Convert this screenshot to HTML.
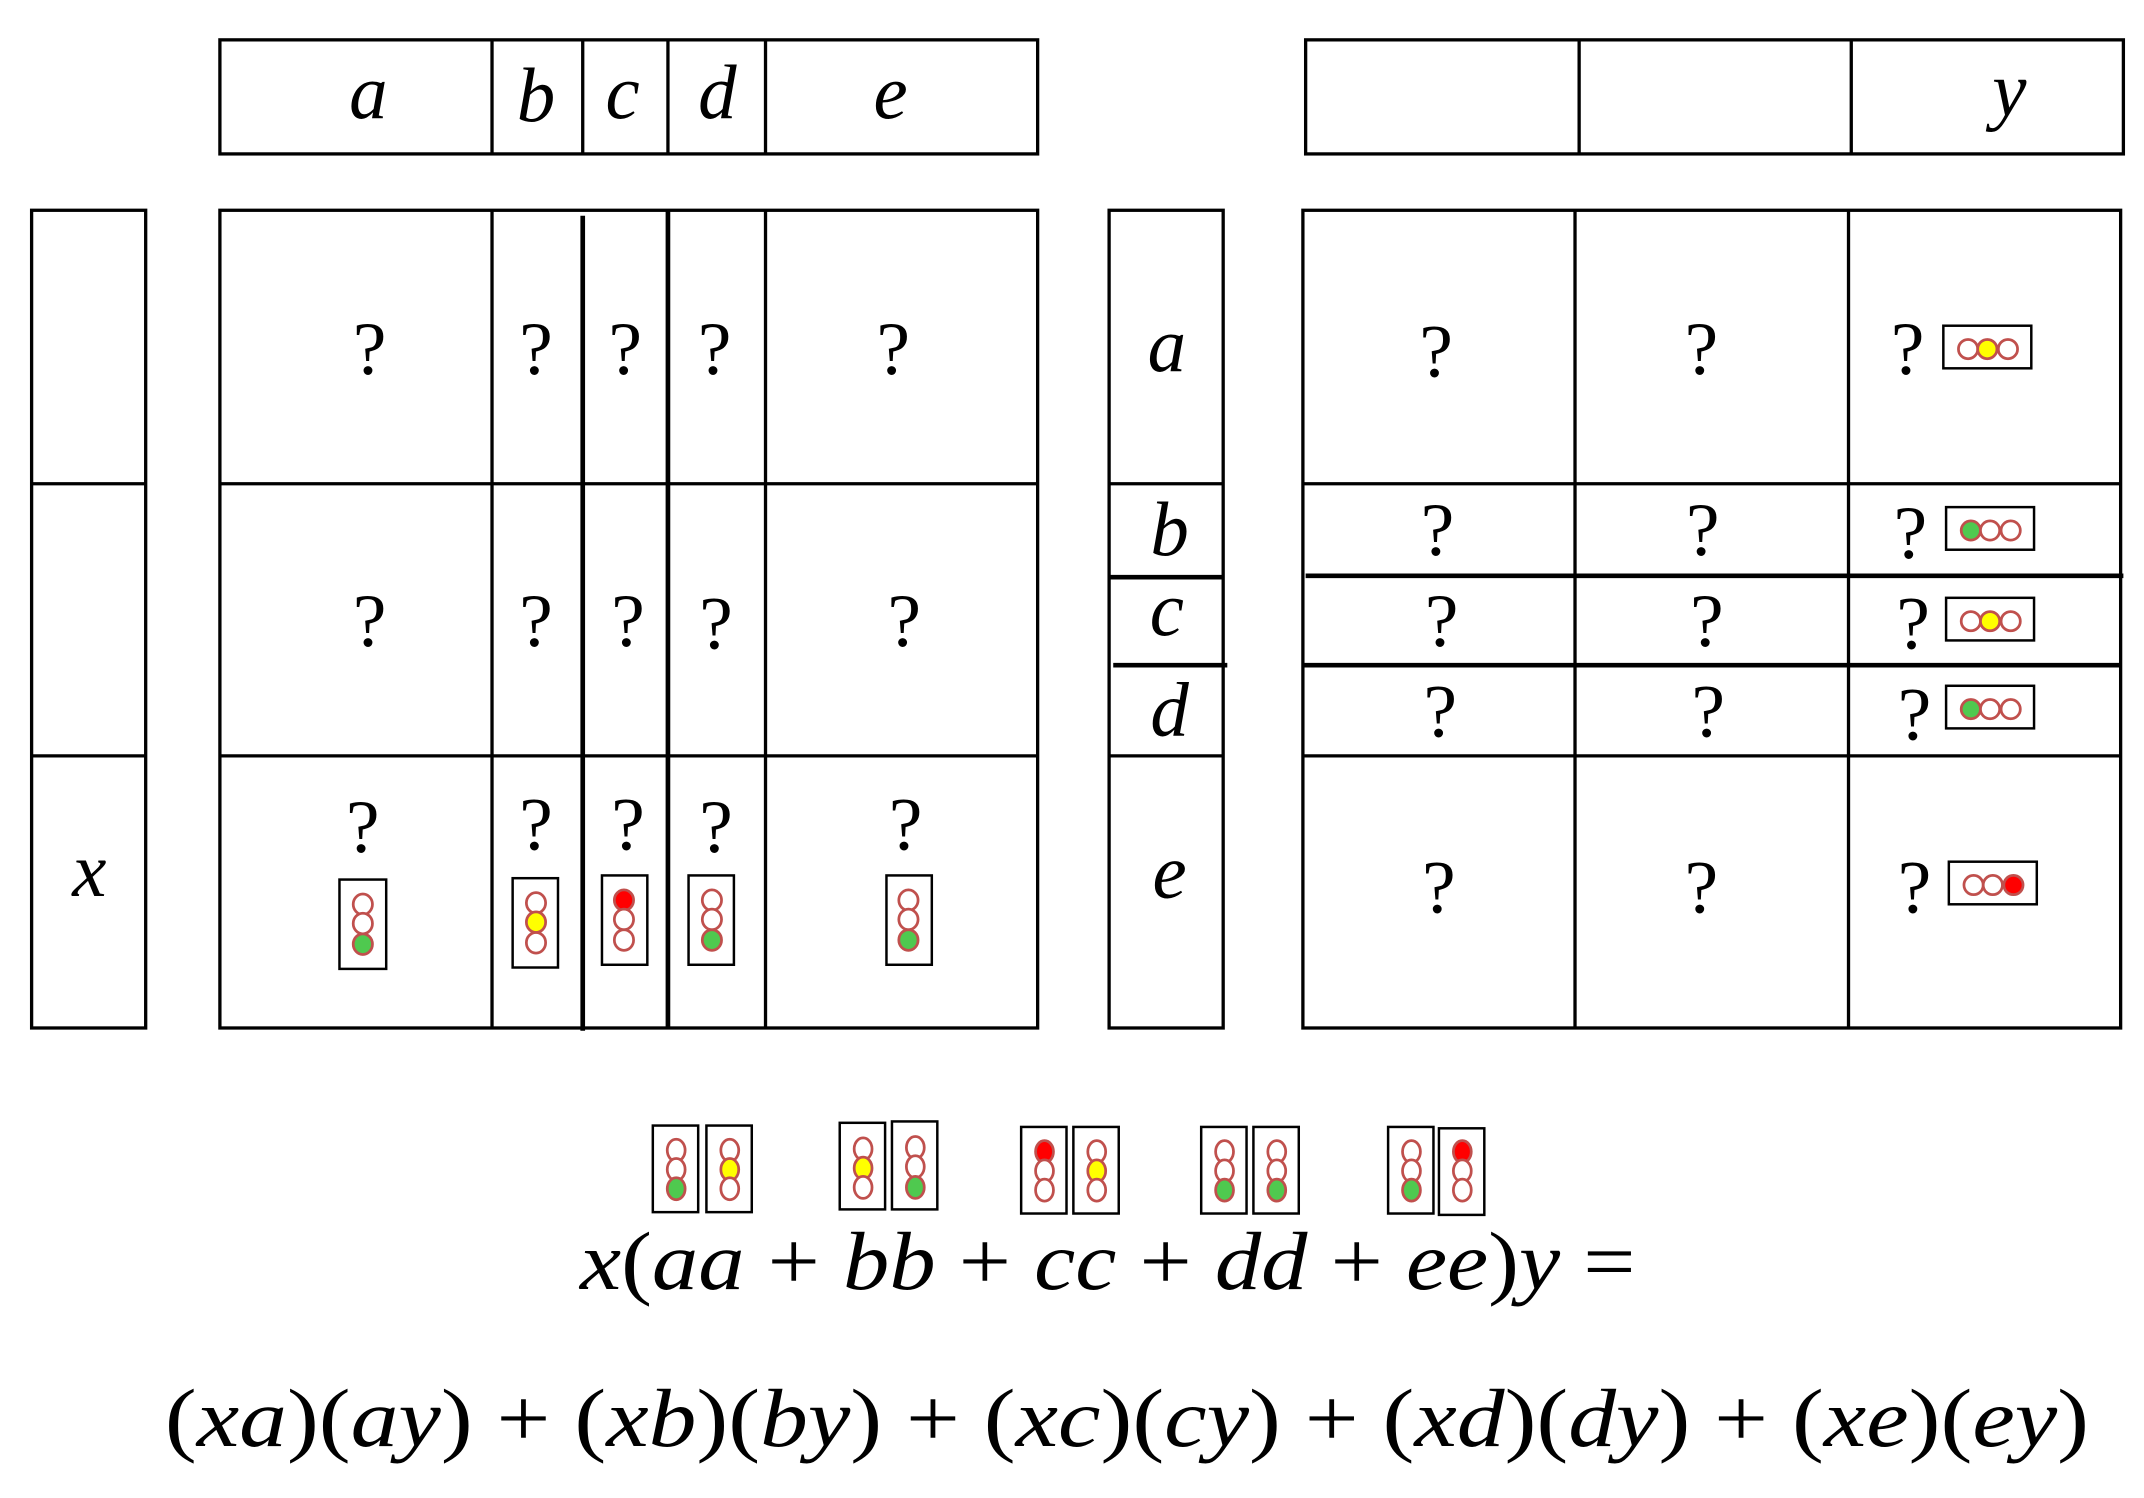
<!DOCTYPE html>
<html><head><meta charset="utf-8"><style>
html,body{margin:0;padding:0;background:#fff;}
svg{display:block;}
.l{font-family:"Liberation Serif",serif;font-style:italic;font-size:56px;text-anchor:middle;}
.q{font-family:"Liberation Serif",serif;font-size:55px;text-anchor:middle;}
.f{font-family:"Liberation Serif",serif;font-style:italic;font-size:60px;}
.b{stroke:#000;stroke-width:2.4;fill:none;}
.t{stroke:#000;stroke-width:3.4;}
.tl{fill:#fff;stroke:#000;stroke-width:1.8;}
.c{stroke:#c0504d;stroke-width:2;}
</style></head><body>
<svg width="2144" height="1498" viewBox="0 0 1560 1090" preserveAspectRatio="none" xmlns="http://www.w3.org/2000/svg">
<rect width="1560" height="1090" fill="#fff"/>
<rect class="b" x="160" y="29" width="595" height="83"/>
<g class="b"><line x1="358" y1="29" x2="358" y2="112"/><line x1="424" y1="29" x2="424" y2="112"/><line x1="486" y1="29" x2="486" y2="112"/><line x1="557" y1="29" x2="557" y2="112"/></g>
<g class="l"><text x="268" y="86">a</text><text x="390" y="88">b</text><text x="453" y="86">c</text><text x="522" y="86">d</text><text x="648" y="86">e</text></g>
<rect class="b" x="23" y="153" width="83" height="595"/>
<g class="b"><line x1="23" y1="352" x2="106" y2="352"/><line x1="23" y1="550" x2="106" y2="550"/></g>
<text class="l" x="65" y="652">x</text>
<rect class="b" x="160" y="153" width="595" height="595"/>
<g class="b"><line x1="160" y1="352" x2="755" y2="352"/><line x1="160" y1="550" x2="755" y2="550"/><line x1="358" y1="153" x2="358" y2="748"/><line x1="557" y1="153" x2="557" y2="748"/></g>
<line class="t" x1="424" y1="157" x2="424" y2="750"/><line class="t" x1="486" y1="153" x2="486" y2="748"/>
<g class="q">
<text x="269" y="272">?</text><text x="390" y="272">?</text><text x="455" y="272">?</text><text x="520" y="272">?</text><text x="650" y="272">?</text>
<text x="269" y="470">?</text><text x="390" y="470">?</text><text x="457" y="470">?</text><text x="521" y="472">?</text><text x="658" y="470">?</text>
<text x="264" y="620">?</text><text x="390" y="618">?</text><text x="457" y="618">?</text><text x="521" y="620">?</text><text x="659" y="618">?</text>
</g>
<g>
<rect class="tl" x="247" y="640" width="34" height="65"/><ellipse class="c" cx="264" cy="658" rx="7" ry="7.5" fill="#fff"/><ellipse class="c" cx="264" cy="672" rx="7" ry="7.5" fill="#fff"/><ellipse class="c" cx="264" cy="687" rx="7" ry="7.5" fill="#4fc94f"/>
<rect class="tl" x="373" y="639" width="33" height="65"/><ellipse class="c" cx="390" cy="657" rx="7" ry="7.5" fill="#fff"/><ellipse class="c" cx="390" cy="671" rx="7" ry="7.5" fill="#ffff00"/><ellipse class="c" cx="390" cy="686" rx="7" ry="7.5" fill="#fff"/>
<rect class="tl" x="438" y="637" width="33" height="65"/><ellipse class="c" cx="454" cy="655" rx="7" ry="7.5" fill="#ff0000"/><ellipse class="c" cx="454" cy="669" rx="7" ry="7.5" fill="#fff"/><ellipse class="c" cx="454" cy="684" rx="7" ry="7.5" fill="#fff"/>
<rect class="tl" x="501" y="637" width="33" height="65"/><ellipse class="c" cx="518" cy="655" rx="7" ry="7.5" fill="#fff"/><ellipse class="c" cx="518" cy="669" rx="7" ry="7.5" fill="#fff"/><ellipse class="c" cx="518" cy="684" rx="7" ry="7.5" fill="#4fc94f"/>
<rect class="tl" x="645" y="637" width="33" height="65"/><ellipse class="c" cx="661" cy="655" rx="7" ry="7.5" fill="#fff"/><ellipse class="c" cx="661" cy="669" rx="7" ry="7.5" fill="#fff"/><ellipse class="c" cx="661" cy="684" rx="7" ry="7.5" fill="#4fc94f"/>
</g>
<rect class="b" x="950" y="29" width="595" height="83"/>
<g class="b"><line x1="1149" y1="29" x2="1149" y2="112"/><line x1="1347" y1="29" x2="1347" y2="112"/></g>
<text class="l" x="1462" y="84">y</text>
<rect class="b" x="807" y="153" width="83" height="595"/>
<g class="b"><line x1="807" y1="352" x2="890" y2="352"/><line x1="807" y1="550" x2="890" y2="550"/></g>
<line class="t" x1="807" y1="420" x2="890" y2="420"/><line class="t" x1="810" y1="484" x2="893" y2="484"/>
<g class="l"><text x="849" y="270">a</text><text x="851" y="404">b</text><text x="849" y="462">c</text><text x="851" y="535">d</text><text x="851" y="653">e</text></g>
<rect class="b" x="948" y="153" width="595" height="595"/>
<g class="b"><line x1="1146" y1="153" x2="1146" y2="748"/><line x1="1345" y1="153" x2="1345" y2="748"/><line x1="948" y1="352" x2="1543" y2="352"/><line x1="948" y1="550" x2="1543" y2="550"/></g>
<line class="t" x1="950" y1="419" x2="1545" y2="419"/><line class="t" x1="948" y1="484" x2="1543" y2="484"/>
<g class="q">
<text x="1045" y="274">?</text><text x="1238" y="272">?</text><text x="1388" y="272">?</text>
<text x="1046" y="404">?</text><text x="1239" y="404">?</text><text x="1390" y="406">?</text>
<text x="1049" y="470">?</text><text x="1242" y="470">?</text><text x="1392" y="472">?</text>
<text x="1048" y="536">?</text><text x="1243" y="536">?</text><text x="1393" y="538">?</text>
<text x="1047" y="664">?</text><text x="1238" y="664">?</text><text x="1393" y="664">?</text>
</g>
<g>
<rect class="tl" x="1414" y="237" width="64" height="31"/><ellipse class="c" cx="1432" cy="254" rx="7" ry="7" fill="#fff"/><ellipse class="c" cx="1446" cy="254" rx="7" ry="7" fill="#ffff00"/><ellipse class="c" cx="1461" cy="254" rx="7" ry="7" fill="#fff"/>
<rect class="tl" x="1416" y="369" width="64" height="31"/><ellipse class="c" cx="1434" cy="386" rx="7" ry="7" fill="#4fc94f"/><ellipse class="c" cx="1448" cy="386" rx="7" ry="7" fill="#fff"/><ellipse class="c" cx="1463" cy="386" rx="7" ry="7" fill="#fff"/>
<rect class="tl" x="1416" y="435" width="64" height="31"/><ellipse class="c" cx="1434" cy="452" rx="7" ry="7" fill="#fff"/><ellipse class="c" cx="1448" cy="452" rx="7" ry="7" fill="#ffff00"/><ellipse class="c" cx="1463" cy="452" rx="7" ry="7" fill="#fff"/>
<rect class="tl" x="1416" y="499" width="64" height="31"/><ellipse class="c" cx="1434" cy="516" rx="7" ry="7" fill="#4fc94f"/><ellipse class="c" cx="1448" cy="516" rx="7" ry="7" fill="#fff"/><ellipse class="c" cx="1463" cy="516" rx="7" ry="7" fill="#fff"/>
<rect class="tl" x="1418" y="627" width="64" height="31"/><ellipse class="c" cx="1436" cy="644" rx="7" ry="7" fill="#fff"/><ellipse class="c" cx="1450" cy="644" rx="7" ry="7" fill="#fff"/><ellipse class="c" cx="1465" cy="644" rx="7" ry="7" fill="#ff0000"/>
</g>
<g>
<rect class="tl" x="475" y="819" width="33" height="63"/><ellipse class="c" cx="492" cy="837" rx="6.5" ry="8" fill="#fff"/><ellipse class="c" cx="492" cy="851" rx="6.5" ry="8" fill="#fff"/><ellipse class="c" cx="492" cy="865" rx="6.5" ry="8" fill="#4fc94f"/>
<rect class="tl" x="514" y="819" width="33" height="63"/><ellipse class="c" cx="531" cy="837" rx="6.5" ry="8" fill="#fff"/><ellipse class="c" cx="531" cy="851" rx="6.5" ry="8" fill="#ffff00"/><ellipse class="c" cx="531" cy="865" rx="6.5" ry="8" fill="#fff"/>
<rect class="tl" x="611" y="817" width="33" height="63"/><ellipse class="c" cx="628" cy="836" rx="6.5" ry="8" fill="#fff"/><ellipse class="c" cx="628" cy="850" rx="6.5" ry="8" fill="#ffff00"/><ellipse class="c" cx="628" cy="864" rx="6.5" ry="8" fill="#fff"/>
<rect class="tl" x="649" y="816" width="33" height="64"/><ellipse class="c" cx="666" cy="835" rx="6.5" ry="8" fill="#fff"/><ellipse class="c" cx="666" cy="849" rx="6.5" ry="8" fill="#fff"/><ellipse class="c" cx="666" cy="864" rx="6.5" ry="8" fill="#4fc94f"/>
<rect class="tl" x="743" y="820" width="33" height="63"/><ellipse class="c" cx="760" cy="838" rx="6.5" ry="8" fill="#ff0000"/><ellipse class="c" cx="760" cy="852" rx="6.5" ry="8" fill="#fff"/><ellipse class="c" cx="760" cy="866" rx="6.5" ry="8" fill="#fff"/>
<rect class="tl" x="781" y="820" width="33" height="63"/><ellipse class="c" cx="798" cy="838" rx="6.5" ry="8" fill="#fff"/><ellipse class="c" cx="798" cy="852" rx="6.5" ry="8" fill="#ffff00"/><ellipse class="c" cx="798" cy="866" rx="6.5" ry="8" fill="#fff"/>
<rect class="tl" x="874" y="820" width="33" height="63"/><ellipse class="c" cx="891" cy="838" rx="6.5" ry="8" fill="#fff"/><ellipse class="c" cx="891" cy="852" rx="6.5" ry="8" fill="#fff"/><ellipse class="c" cx="891" cy="866" rx="6.5" ry="8" fill="#4fc94f"/>
<rect class="tl" x="912" y="820" width="33" height="63"/><ellipse class="c" cx="929" cy="838" rx="6.5" ry="8" fill="#fff"/><ellipse class="c" cx="929" cy="852" rx="6.5" ry="8" fill="#fff"/><ellipse class="c" cx="929" cy="866" rx="6.5" ry="8" fill="#4fc94f"/>
<rect class="tl" x="1010" y="820" width="33" height="63"/><ellipse class="c" cx="1027" cy="838" rx="6.5" ry="8" fill="#fff"/><ellipse class="c" cx="1027" cy="852" rx="6.5" ry="8" fill="#fff"/><ellipse class="c" cx="1027" cy="866" rx="6.5" ry="8" fill="#4fc94f"/>
<rect class="tl" x="1047" y="821" width="33" height="63"/><ellipse class="c" cx="1064" cy="838" rx="6.5" ry="8" fill="#ff0000"/><ellipse class="c" cx="1064" cy="852" rx="6.5" ry="8" fill="#fff"/><ellipse class="c" cx="1064" cy="866" rx="6.5" ry="8" fill="#fff"/>
</g>
<text class="f" x="422" y="938" textLength="768" lengthAdjust="spacingAndGlyphs">x<tspan font-style="normal">(</tspan>aa <tspan font-style="normal">+</tspan> bb <tspan font-style="normal">+</tspan> cc <tspan font-style="normal">+</tspan> dd <tspan font-style="normal">+</tspan> ee<tspan font-style="normal">)</tspan>y <tspan font-style="normal">=</tspan></text>
<text class="f" x="120" y="1052" textLength="1400" lengthAdjust="spacingAndGlyphs"><tspan font-style="normal">(</tspan>xa<tspan font-style="normal">)(</tspan>ay<tspan font-style="normal">) + (</tspan>xb<tspan font-style="normal">)(</tspan>by<tspan font-style="normal">) + (</tspan>xc<tspan font-style="normal">)(</tspan>cy<tspan font-style="normal">) + (</tspan>xd<tspan font-style="normal">)(</tspan>dy<tspan font-style="normal">) + (</tspan>xe<tspan font-style="normal">)(</tspan>ey<tspan font-style="normal">)</tspan></text>
</svg>
</body></html>
